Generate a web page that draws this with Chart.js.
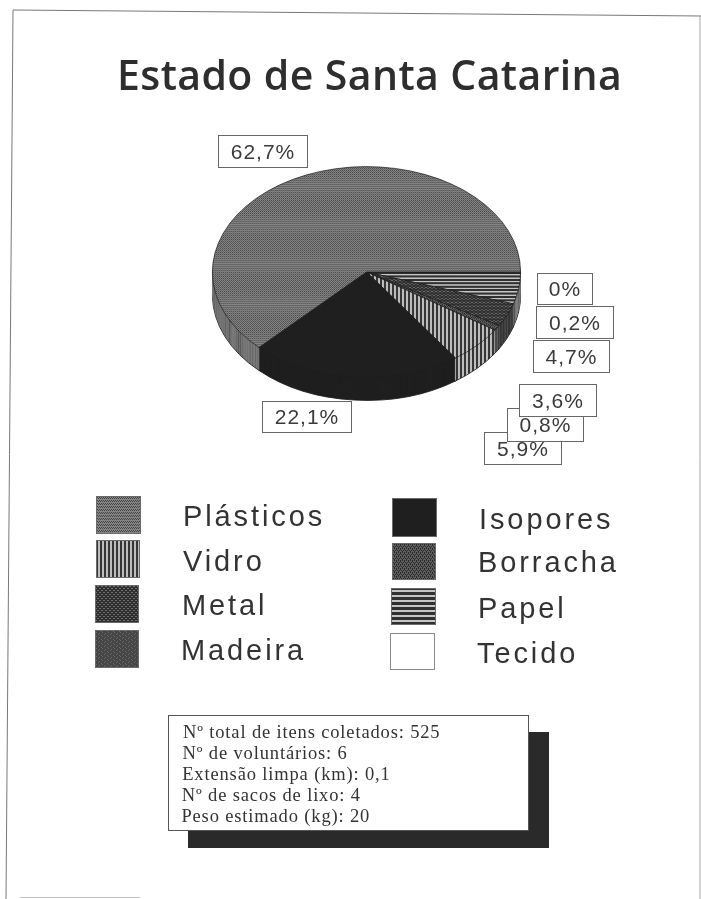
<!DOCTYPE html>
<html lang="pt">
<head>
  <meta charset="UTF-8" />
  <title>Estado de Santa Catarina</title>
  <style>
    html, body { margin: 0; padding: 0; background: #fff; }
    canvas { display: block; }
  </style>
</head>
<body>
  <canvas id="grafico" width="701" height="899"></canvas>

  <script src="https://cdn.jsdelivr.net/npm/chart.js"></script>
  <script>
    const titulo = 'Estado de Santa Catarina';
    const categorias = ['Plásticos', 'Isopores', 'Vidro', 'Borracha', 'Metal', 'Papel', 'Madeira', 'Tecido'];
    const valores = [62.7, 22.1, 5.9, 0.8, 3.6, 4.7, 0.2, 0];
    const resumo = [
      'Nº total de itens coletados: 525',
      'Nº de voluntários: 6',
      'Extensão limpa (km): 0,1',
      'Nº de sacos de lixo: 4',
      'Peso estimado (kg): 20'
    ];

    // caixas dos percentuais, na mesma ordem de categorias: [x, y, largura, altura]
    const caixas = [
      [218, 135, 89, 32],
      [262, 401, 89, 31],
      [484, 432, 77, 32],
      [507, 408, 76, 33],
      [519, 384, 77, 32],
      [533, 340, 76, 32],
      [536, 306, 77, 32],
      [537, 273, 55, 31]
    ];
    // legenda: [x amostra, y amostra, largura, altura, x texto, base do texto]
    const legenda = [
      [96, 496, 45, 38, 183, 526],
      [392, 498, 45, 39, 479, 529],
      [96, 540, 44, 38, 183, 571],
      [392, 543, 44, 37, 478, 572],
      [95, 585, 44, 38, 182, 615],
      [391, 588, 45, 37, 478, 618],
      [95, 630, 44, 38, 181, 660],
      [390, 633, 45, 37, 477, 663]
    ];

    const ACHATAMENTO = 0.684;
    const ALTURA_PIZZA = 23;

    function hachura(w, h, fundo, desenha) {
      const c = document.createElement('canvas');
      c.width = w;
      c.height = h;
      const g = c.getContext('2d');
      g.fillStyle = fundo;
      g.fillRect(0, 0, w, h);
      desenha(g);
      return document.getElementById('grafico').getContext('2d').createPattern(c, 'repeat');
    }

    function pontos(cor, lista) {
      return (g) => {
        g.fillStyle = cor;
        lista.forEach(([x, y]) => g.fillRect(x, y, 1, 1));
      };
    }

    const padroes = [
      hachura(4, 3, '#848484', pontos('#464646', [[0, 0], [2, 0], [1, 2], [3, 2]])),
      '#1f1f1f',
      hachura(4, 1, '#bdbdbd', (g) => { g.fillStyle = '#363636'; g.fillRect(0, 0, 2, 1); }),
      hachura(4, 4, '#5e5e5e', pontos('#2a2a2a', [[0, 0], [2, 0], [1, 2], [3, 2], [0, 1], [2, 3]])),
      hachura(4, 4, '#2f2f2f', pontos('#6e6e6e', [[0, 0], [2, 2], [3, 0], [1, 2]])),
      hachura(1, 5, '#303030', (g) => { g.fillStyle = '#c4c4c4'; g.fillRect(0, 0, 1, 2); }),
      hachura(6, 4, '#464646', pontos('#666666', [[0, 0], [3, 1], [5, 3], [2, 2]])),
      '#ffffff'
    ];

    function formataPct(v) {
      return String(v).replace('.', ',') + '%';
    }

    // achata o círculo e empilha as fatias para dar o efeito 3D
    const pizza3d = {
      id: 'pizza3d',
      beforeDatasetsDraw(chart) {
        const { ctx, chartArea } = chart;
        const cx = (chartArea.left + chartArea.right) / 2;
        const cy = (chartArea.top + chartArea.bottom) / 2;
        const arcos = chart.getDatasetMeta(0).data;
        const achata = (dy) => {
          ctx.translate(cx, cy + dy);
          ctx.scale(1, ACHATAMENTO);
          ctx.translate(-cx, -cy);
        };
        for (let i = ALTURA_PIZZA; i > 0; i--) {
          ctx.save();
          achata(i);
          arcos.forEach((arco) => {
            const original = arco.options;
            arco.options = Object.assign({}, original, { borderWidth: i === ALTURA_PIZZA ? 1 : 0 });
            arco.draw(ctx);
            arco.options = original;
          });
          ctx.restore();
        }
        ctx.save();
        achata(0);
      },
      afterDatasetsDraw(chart) {
        chart.ctx.restore();
      }
    };

    // moldura da folha, título, caixas, legenda e quadro de resumo
    const folha = {
      id: 'folha',
      beforeDraw(chart) {
        const { ctx } = chart;
        ctx.save();
        ctx.strokeStyle = '#777777';
        ctx.lineWidth = 1;
        ctx.beginPath();
        ctx.moveTo(6, 899);
        ctx.lineTo(13, 10);
        ctx.lineTo(701, 16);
        ctx.stroke();
        ctx.strokeStyle = '#a8a8a8';
        ctx.beginPath();
        ctx.moveTo(700, 16);
        ctx.lineTo(700, 899);
        ctx.stroke();
        ctx.strokeStyle = '#c4c4c4';
        ctx.beginPath();
        ctx.moveTo(20, 897.5);
        ctx.lineTo(140, 897.5);
        ctx.stroke();
        ctx.restore();
      },
      afterDraw(chart) {
        const { ctx } = chart;
        ctx.save();
        ctx.textBaseline = 'alphabetic';

        ctx.fillStyle = '#2e2e2e';
        ctx.font = '600 41px "Open Sans"';
        ctx.letterSpacing = '0.4px';
        ctx.textAlign = 'left';
        ctx.fillText(titulo, 117, 90);

        // rótulos de percentual; a ordem de desenho define a sobreposição
        ctx.font = '21px "Liberation Sans"';
        ctx.letterSpacing = '1px';
        ctx.textAlign = 'center';
        caixas.forEach(([x, y, w, h], i) => {
          ctx.fillStyle = '#ffffff';
          ctx.fillRect(x, y, w, h);
          ctx.strokeStyle = '#666666';
          ctx.lineWidth = 1;
          ctx.strokeRect(x + 0.5, y + 0.5, w, h);
          ctx.fillStyle = '#3a3a3a';
          ctx.fillText(formataPct(valores[i]), x + w / 2 + 0.5, y + h / 2 + 7.5);
        });

        ctx.font = '29px "Liberation Sans"';
        ctx.letterSpacing = '2.9px';
        ctx.textAlign = 'left';
        legenda.forEach(([x, y, w, h, tx, ty], i) => {
          ctx.fillStyle = padroes[i];
          ctx.fillRect(x, y, w, h);
          ctx.strokeStyle = i === 7 ? '#8a8a8a' : '#6a6a6a';
          ctx.lineWidth = 1;
          ctx.strokeRect(x + 0.5, y + 0.5, w - 1, h - 1);
          ctx.fillStyle = '#333333';
          ctx.fillText(categorias[i], tx, ty);
        });

        ctx.fillStyle = '#2a2a2a';
        ctx.fillRect(188, 732, 361, 116);
        ctx.fillStyle = '#ffffff';
        ctx.fillRect(168, 715, 361, 115);
        ctx.strokeStyle = '#555555';
        ctx.strokeRect(168.5, 715.5, 360, 115);

        ctx.fillStyle = '#333333';
        ctx.font = '18.5px "Liberation Serif"';
        ctx.letterSpacing = '0.85px';
        resumo.forEach((linha, i) => {
          ctx.fillText(linha, 183 - i * 0.4, 738 + i * 20.9);
        });
        ctx.restore();
      }
    };

    // o Chart.js gira no sentido horário; as fatias vêm no sentido anti-horário
    const ordem = categorias.map((_, i) => categorias.length - 1 - i);

    new Chart(document.getElementById('grafico').getContext('2d'), {
      type: 'pie',
      data: {
        labels: ordem.map((i) => categorias[i]),
        datasets: [{
          data: ordem.map((i) => valores[i]),
          backgroundColor: ordem.map((i) => padroes[i]),
          borderColor: '#1c1c1c',
          borderWidth: 0.8,
          clip: false
        }]
      },
      options: {
        responsive: false,
        animation: false,
        rotation: 90,
        layout: { padding: { left: 212, right: 180, top: 117, bottom: 472 } },
        plugins: {
          legend: { display: false },
          tooltip: { enabled: false }
        }
      },
      plugins: [pizza3d, folha]
    });
  </script>
</body>
</html>
